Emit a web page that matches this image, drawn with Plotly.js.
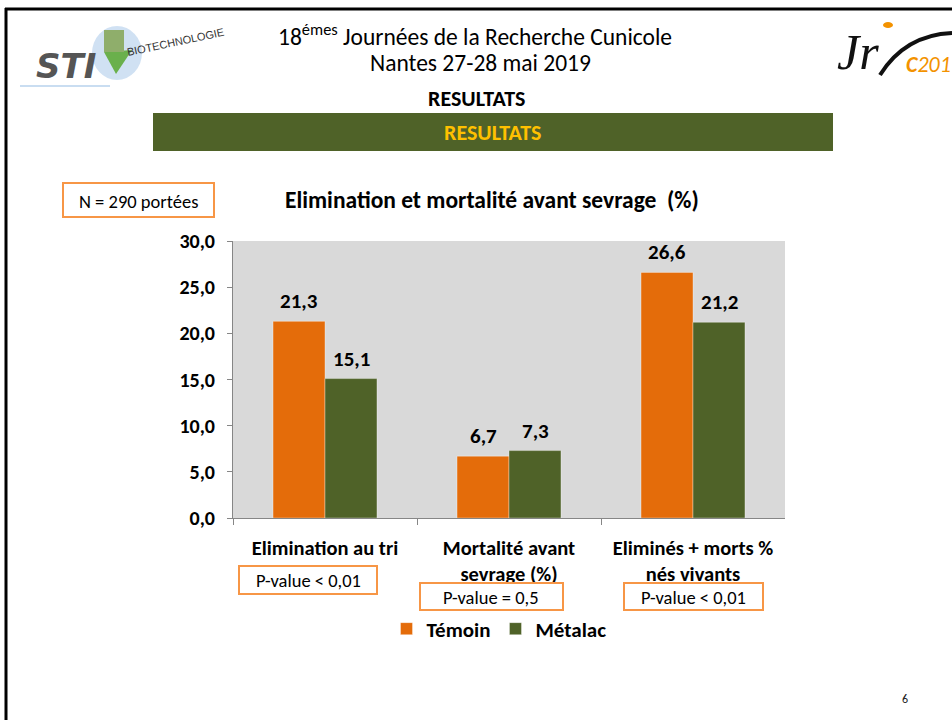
<!DOCTYPE html>
<html>
<head>
<meta charset="utf-8">
<script src="https://cdn.plot.ly/plotly-3.0.1.min.js"></script>
<style>html,body{margin:0;padding:0;background:#fff;}#chart{width:952px;height:720px;}</style>
</head>
<body>
<div id="chart"></div>
<script>
// ---- data ----
const categories = ["Elimination au tri", "Mortalité avant sevrage (%)", "Eliminés + morts % nés vivants"];
const categoryLabels = ["Elimination au tri", "Mortalité avant<br>sevrage (%)", "Eliminés + morts %<br>nés vivants"];
const temoin = [21.3, 6.7, 26.6];
const metalac = [15.1, 7.3, 21.2];
const seriesNames = ["Témoin", "Métalac"];
const pValues = ["P-value < 0,01", "P-value = 0,5", "P-value < 0,01"];
const yTicks = [0, 5, 10, 15, 20, 25, 30];

const W = 952, H = 720;
const px = x => x / W;
const py = y => 1 - y / H;
const FONT = "Carlito, Lato, 'Open Sans', sans-serif";
const ORANGE = "#E46C0A";
const GREEN = "#4F6228";
const BOXC = "#F79646";

const traces = [
  {type: "bar", name: seriesNames[0], x: categories, y: temoin, marker: {color: ORANGE, line: {color: "rgba(255,255,255,0.35)", width: 1}}, hoverinfo: "none"},
  {type: "bar", name: seriesNames[1], x: categories, y: metalac, marker: {color: GREEN, line: {color: "rgba(255,255,255,0.35)", width: 1}}, hoverinfo: "none"}
];

const annotations = [];
function note(x, y, text, size, opts) {
  annotations.push(Object.assign({x: px(x), y: py(y), xref: "paper", yref: "paper", xanchor: "center", yanchor: "middle",
    text: text, showarrow: false, font: {family: FONT, size: size, color: "#000"}}, opts || {}));
}
// value labels
[temoin, metalac].forEach((arr, s) => {
  arr.forEach((v, i) => {
    annotations.push({x: categories[i], y: v, xref: "x", yref: "y", xshift: s === 0 ? -26 : 26, yshift: 20,
      xanchor: "center", yanchor: "middle",
      text: v.toFixed(1).replace(".", ","), showarrow: false, font: {family: FONT, size: 21, color: "#000", weight: "bold"}});
  });
});
// header texts
note(475, 35, "18<sup>émes</sup> Journées de la Recherche Cunicole", 23.5);
note(480, 63, "Nantes 27-28 mai 2019", 23.5);
note(476, 99, "RESULTATS", 22, {font: {family: FONT, size: 22, color: "#000", weight: "bold"}});
note(492, 132, "RESULTATS", 22, {font: {family: FONT, size: 22, color: "#FFC000", weight: "bold"}});
// chart title
note(492, 200, "Elimination et mortalité avant sevrage  (%)", 23.5, {font: {family: FONT, size: 23.5, color: "#000", weight: "bold"}});
// N box text
note(138, 201, "N = 290 portées", 18.5);
// p-value texts
const pvPos = [[308, 580], [491, 597], [693, 597]];
pValues.forEach((t, i) => note(pvPos[i][0], pvPos[i][1], t, 18.5));
// page number
note(905, 699, "6", 12, {font: {family: FONT, size: 12, color: "#222"}});
// logo approximations
note(66, 66, "<b><i>STI</i></b>", 34, {font: {family: "'DejaVu Sans', sans-serif", size: 34, color: "#555"}});
note(175, 42, "BIOTECHNOLOGIE", 11, {textangle: -12, font: {family: "'Liberation Sans Narrow', 'Liberation Sans', sans-serif", size: 11, color: "#333"}});
note(858, 52, "<i>Jr</i>", 50, {font: {family: "'Liberation Serif', serif", size: 50, color: "#111"}});
note(928, 64, "<b><i>C</i></b><i>201</i>", 22, {font: {family: FONT, size: 22, color: "#F39200"}});

const shapes = [
  // slide border
  {type: "line", xref: "paper", yref: "paper", x0: px(5), x1: px(952), y0: py(9), y1: py(9), line: {color: "#000", width: 3}},
  {type: "line", xref: "paper", yref: "paper", x0: px(6), x1: px(6), y0: py(8), y1: py(720), line: {color: "#000", width: 3}},
  // header bar
  {type: "rect", xref: "paper", yref: "paper", x0: px(153), x1: px(833), y0: py(113), y1: py(151), fillcolor: "#4F6228", line: {width: 0}, layer: "below"},
  // N box
  {type: "rect", xref: "paper", yref: "paper", x0: px(63), x1: px(214), y0: py(183), y1: py(217), fillcolor: "#fff", line: {color: BOXC, width: 2}},
  // p-value boxes
  {type: "rect", xref: "paper", yref: "paper", x0: px(239), x1: px(377), y0: py(566), y1: py(594), fillcolor: "#fff", line: {color: BOXC, width: 2}},
  {type: "rect", xref: "paper", yref: "paper", x0: px(420), x1: px(563), y0: py(583), y1: py(610), fillcolor: "#fff", line: {color: BOXC, width: 2}},
  {type: "rect", xref: "paper", yref: "paper", x0: px(624), x1: px(763), y0: py(583), y1: py(610), fillcolor: "#fff", line: {color: BOXC, width: 2}},
  // STI logo approximations
  {type: "circle", xref: "paper", yref: "paper", x0: px(92), x1: px(142), y0: py(26), y1: py(80), fillcolor: "rgba(120,170,220,0.35)", line: {width: 0}, layer: "below"},
  {type: "line", xref: "paper", yref: "paper", x0: px(20), x1: px(110), y0: py(86), y1: py(86), line: {color: "rgba(120,170,220,0.4)", width: 2}},
  {type: "path", xref: "paper", yref: "paper", path: `M ${px(104)} ${py(52)} L ${px(132)} ${py(50)} L ${px(116)} ${py(74)} Z`, fillcolor: "#6ab04c", line: {width: 0}},
  {type: "rect", xref: "paper", yref: "paper", x0: px(104), x1: px(124), y0: py(30), y1: py(52), fillcolor: "#8fae6b", line: {width: 0}},
  // JRC logo swoosh
  {type: "path", xref: "paper", yref: "paper", path: `M ${px(880)} ${py(75)} Q ${px(905)} ${py(35)} ${px(952)} ${py(33)}`, line: {color: "#111", width: 4}},
  {type: "circle", xref: "paper", yref: "paper", x0: px(883), x1: px(893), y0: py(22), y1: py(28), fillcolor: "#F39200", line: {width: 0}}
];

const layout = {
  width: W, height: H,
  margin: {l: 0, r: 0, t: 0, b: 0},
  paper_bgcolor: "#fff",
  plot_bgcolor: "#D9D9D9",
  separators: ",.",
  barmode: "group",
  bargap: 0.435,
  bargroupgap: 0,
  showlegend: true,
  legend: {orientation: "h", x: px(499), xanchor: "center", y: py(629), yanchor: "middle",
    font: {family: FONT, size: 21, color: "#000", weight: "bold"}, itemwidth: 30, tracegroupgap: 0, bgcolor: "rgba(0,0,0,0)"},
  xaxis: {
    domain: [px(233), px(785)], type: "category", tickson: "boundaries",
    ticks: "outside", ticklen: 6, tickcolor: "#868686",
    showline: true, linecolor: "#868686", linewidth: 1, showgrid: false,
    tickvals: categories, ticktext: categoryLabels,
    ticklabelstandoff: 11,
    tickfont: {family: FONT, size: 20.5, color: "#000", weight: "bold"},
    fixedrange: true
  },
  yaxis: {
    domain: [py(518), py(241)], range: [0, 30], tickvals: yTicks, tickformat: ".1f",
    ticks: "outside", ticklen: 5, tickcolor: "#868686",
    showline: true, linecolor: "#868686", linewidth: 1, showgrid: false, zeroline: false,
    ticklabelstandoff: 8,
    tickfont: {family: FONT, size: 20, color: "#000", weight: "bold"},
    fixedrange: true
  },
  annotations: annotations,
  shapes: shapes
};

Plotly.newPlot("chart", traces, layout, {displayModeBar: false, staticPlot: true});
</script>
</body>
</html>
